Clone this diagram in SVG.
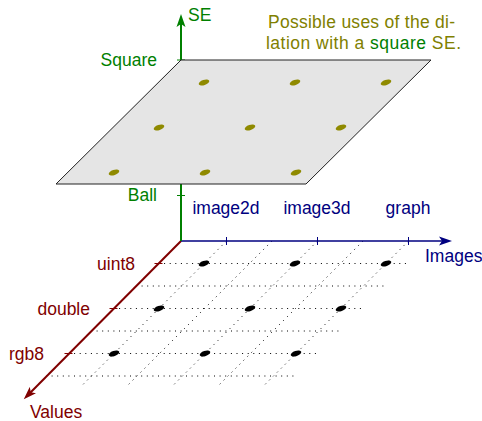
<svg xmlns="http://www.w3.org/2000/svg" width="482" height="421" viewBox="0 0 482 421">
<style>
text{font-family:"Liberation Sans",Arial,sans-serif;font-size:17.5px}
.g{fill:#008000}.b{fill:#000080}.r{fill:#800000}.o{fill:#808000}
.dot{stroke:#000;stroke-width:1;stroke-dasharray:1 4.6;fill:none}
.pt{fill:#000}.opt{fill:#8f8a00}
</style>
<defs>
<marker id="ab" markerUnits="userSpaceOnUse" markerWidth="14" markerHeight="10" refX="7" refY="5" orient="auto" viewBox="0 0 14 10"><path d="M0,0.5 L13,5 L0,9.5 L3,5 z" fill="#000080"/></marker>
<marker id="ar" markerUnits="userSpaceOnUse" markerWidth="14" markerHeight="10" refX="7" refY="5" orient="auto" viewBox="0 0 14 10"><path d="M0,0.5 L13,5 L0,9.5 L3,5 z" fill="#800000"/></marker>
<marker id="ag" markerUnits="userSpaceOnUse" markerWidth="14" markerHeight="10" refX="7" refY="5" orient="auto" viewBox="0 0 14 10"><path d="M0,0.5 L13,5 L0,9.5 L3,5 z" fill="#008000"/></marker>
<ellipse id="e" rx="5.5" ry="2.6" transform="rotate(-18)"/>
</defs>
<g id="grid" class="dot">
<path d="M158.5,263.5H408.5M136,286H386M113.5,308.5H363.5M91,331H341M68.5,353.5H318.5M46,376H296"/>
<path d="M226.5,241L80.25,387.25M272,241L125.75,387.25M317.5,241L171.25,387.25M363,241L216.75,387.25M408.5,241L262.25,387.25"/>
</g>
<g id="points" class="pt">
<use href="#e" transform="translate(204,263.5)"/>
<use href="#e" transform="translate(295,263.5)"/>
<use href="#e" transform="translate(386,263.5)"/>
<use href="#e" transform="translate(159,308.5)"/>
<use href="#e" transform="translate(250,308.5)"/>
<use href="#e" transform="translate(341,308.5)"/>
<use href="#e" transform="translate(114,353.5)"/>
<use href="#e" transform="translate(205,353.5)"/>
<use href="#e" transform="translate(296,353.5)"/>
</g>
<g id="connectors">
<line x1="181" y1="241" x2="28" y2="395" stroke="#800000" stroke-width="2" marker-end="url(#ar)"/>
<line x1="181" y1="241" x2="446" y2="241" stroke="#000080" stroke-width="1.6" marker-end="url(#ab)"/>
<line x1="181" y1="241" x2="181" y2="20" stroke="#008000" stroke-width="2" marker-end="url(#ag)"/>
<path d="M226.5,237V245M317.5,237V245M408.5,237V245" stroke="#000080" stroke-width="1"/>
<path d="M154.5,263.5H162.5M109.5,308.5H117.5M64.5,353.5H72.5" stroke="#800000" stroke-width="1"/>
<path d="M177,195.5H185M177,60H185" stroke="#008000" stroke-width="1"/>
</g>
<g id="plane">
<polygon points="181,60 431,60 306,184 56,184" fill="#e5e5e5" stroke="#222" stroke-width="1"/>
<g class="opt">
<use href="#e" transform="translate(204,82.5)"/>
<use href="#e" transform="translate(295,82.5)"/>
<use href="#e" transform="translate(386,82.5)"/>
<use href="#e" transform="translate(159,127.5)"/>
<use href="#e" transform="translate(250,127.5)"/>
<use href="#e" transform="translate(341,127.5)"/>
<use href="#e" transform="translate(114,172.5)"/>
<use href="#e" transform="translate(205,172.5)"/>
<use href="#e" transform="translate(296,172.5)"/>
</g>
</g>
<g id="labels-se">
<text class="g" x="188" y="21">SE</text>
<text class="g" x="157" y="66" text-anchor="end">Square</text>
<text class="g" x="157" y="201" text-anchor="end">Ball</text>
</g>
<g id="labels-images">
<text class="b" x="226" y="214" text-anchor="middle">image2d</text>
<text class="b" x="317" y="214" text-anchor="middle">image3d</text>
<text class="b" x="408" y="214" text-anchor="middle">graph</text>
<text class="b" x="425" y="262">Images</text>
</g>
<g id="labels-values">
<text class="r" x="135" y="270" text-anchor="end">uint8</text>
<text class="r" x="90" y="315" text-anchor="end">double</text>
<text class="r" x="44" y="360" text-anchor="end">rgb8</text>
<text class="r" x="30" y="418">Values</text>
</g>
<g id="caption">
<text class="o" x="268" y="28" textLength="187" lengthAdjust="spacing">Possible uses of the di-</text>
<text class="o" x="266" y="49" textLength="195" lengthAdjust="spacing">lation with a <tspan class="g">square</tspan> SE.</text>
</g>
</svg>
